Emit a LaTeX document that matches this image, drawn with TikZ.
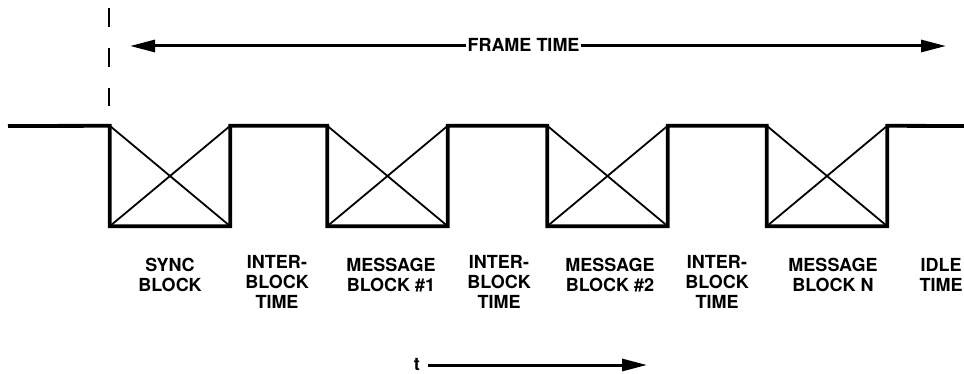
\documentclass[tikz,border=0pt]{standalone}
\usepackage{fontspec}
\setmainfont{TeX Gyre Heros}
\usetikzlibrary{arrows.meta}
\begin{document}
\begin{tikzpicture}[x=1pt,y=-1pt,
  blk/.style={rectangle,draw=none,minimum width=120pt,minimum height=100pt,inner sep=0pt},
  wave/.style={line width=3.8pt,line join=miter},
  cross/.style={line width=1.8pt},
  txt/.style={font=\fontsize{18}{20}\selectfont\bfseries},
  lbl/.style={txt,align=center,anchor=north,inner sep=0pt},
  arr/.style={line width=3pt,-{Triangle[length=25pt,width=12pt]}}
]
\useasboundingbox (0,0) rectangle (964,374);
% blocks
\node[blk] (b1) at (170,176) {};
\node[blk] (b2) at (387.5,176) {};
\node[blk] (b3) at (607.5,176) {};
\node[blk] (b4) at (827,176) {};
\coordinate (start) at (8,126);
\coordinate (end) at (964,126);
% crosses
\foreach \b in {b1,b2,b3,b4}{
  \draw[cross] (\b.north west) -- (\b.south east);
  \draw[cross] (\b.south west) -- (\b.north east);
}
% waveform
\draw[wave] (start) -- (b1.north west) -- (b1.south west) -- (b1.south east) -- (b1.north east)
  -- (b2.north west) -- (b2.south west) -- (b2.south east) -- (b2.north east)
  -- (b3.north west) -- (b3.south west) -- (b3.south east) -- (b3.north east)
  -- (b4.north west) -- (b4.south west) -- (b4.south east) -- (b4.north east) -- (end);
% dashed marker
\coordinate (dtop) at (109,8);
\coordinate (dbot) at (109,106);
\draw[line width=1.8pt,dash pattern=on 19pt off 21pt] (dtop) -- (dbot);
% frame time
\node[txt,inner sep=1pt] (ft) at (523.5,45) {FRAME TIME};
\coordinate (ftl) at (130,46);
\coordinate (ftr) at (946,46);
\draw[arr] (ft.west |- ftl) -- (ftl);
\draw[arr] (ft.east |- ftr) -- (ftr);
% labels
\node[lbl] (l1) at (170,258) {SYNC\\BLOCK};
\node[lbl] (l2) at (277,255) {INTER-\\BLOCK\\TIME};
\node[lbl] (l3) at (391,258) {MESSAGE\\BLOCK \#1};
\node[lbl] (l4) at (499,255) {INTER-\\BLOCK\\TIME};
\node[lbl] (l5) at (610,258) {MESSAGE\\BLOCK \#2};
\node[lbl] (l6) at (717,255) {INTER-\\BLOCK\\TIME};
\node[lbl] (l7) at (833,258) {MESSAGE\\BLOCK N};
\node[lbl] (l8) at (941,258) {IDLE\\TIME};
% time arrow
\node[txt,inner sep=0pt,anchor=east] (t) at (420,364) {t};
\coordinate (tend) at (647,365);
\draw[arr] ([xshift=8pt]t.east |- tend) -- (tend);
\end{tikzpicture}
\end{document}
